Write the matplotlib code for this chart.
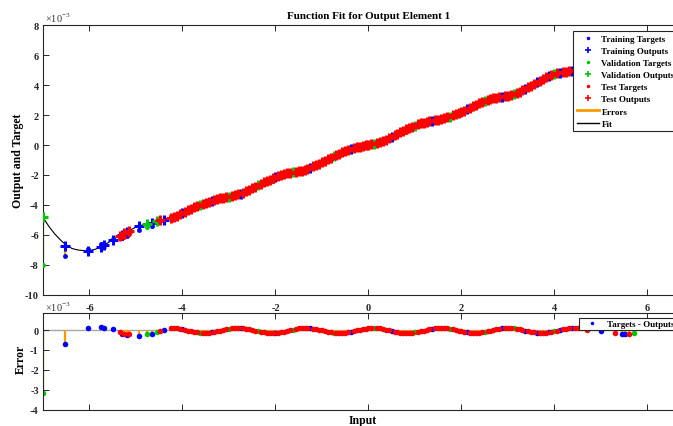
import matplotlib
matplotlib.use('Agg')
import matplotlib.pyplot as plt
from matplotlib.lines import Line2D
import numpy as np

# ---------------- data (values in units of 1e-3) ----------------
input_x = [
    -7.0, -6.52, -6.03, -5.75, -5.68, -5.49, -5.35, -5.30, -5.25, -5.20, -5.15,
    -4.93, -4.77, -4.66, -4.55, -4.48, -4.40,
    -4.25, -4.125, -4.0, -3.875, -3.75, -3.625, -3.5, -3.375, -3.25, -3.125,
    -3.0, -2.875, -2.75, -2.625, -2.5, -2.375, -2.25, -2.125, -2.0, -1.875,
    -1.75, -1.625, -1.5, -1.375, -1.25, -1.125, -1.0, -0.875, -0.75, -0.625,
    -0.5, -0.375, -0.25, -0.125, 0.0, 0.125, 0.25, 0.375, 0.5, 0.625,
    0.75, 0.875, 1.0, 1.125, 1.25, 1.375, 1.5, 1.625, 1.75, 1.875,
    2.0, 2.125, 2.25, 2.375, 2.5, 2.625, 2.75, 2.875, 3.0, 3.125,
    3.25, 3.375, 3.5, 3.625, 3.75, 3.875, 4.0, 4.125, 4.25, 4.375, 4.5,
    4.70, 5.00, 5.30, 5.45, 5.52, 5.60, 5.72,
    -4.1875, -4.0625, -3.9375, -3.8125, -3.6875, -3.5625, -3.4375, -3.3125, -3.1875, -3.0625,
    -2.9375, -2.8125, -2.6875, -2.5625, -2.4375, -2.3125, -2.1875, -2.0625, -1.9375, -1.8125,
    -1.6875, -1.5625, -1.4375, -1.3125, -1.1875, -1.0625, -0.9375, -0.8125, -0.6875, -0.5625,
    -0.4375, -0.3125, -0.1875, -0.0625, 0.0625, 0.1875, 0.3125, 0.4375, 0.5625, 0.6875,
    0.8125, 0.9375, 1.0625, 1.1875, 1.3125, 1.4375, 1.5625, 1.6875, 1.8125, 1.9375,
    2.0625, 2.1875, 2.3125, 2.4375, 2.5625, 2.6875, 2.8125, 2.9375, 3.0625, 3.1875,
    3.3125, 3.4375, 3.5625, 3.6875, 3.8125, 3.9375, 4.0625, 4.1875, 4.3125, 4.4375,
]
output_y = [
    -4.82, -6.72, -7.04, -6.78, -6.68, -6.31, -6.08, -5.99, -5.90, -5.82, -5.74,
    -5.38, -5.28, -5.20, -5.10, -5.03, -4.97,
    -4.85, -4.71, -4.55, -4.35, -4.15, -3.99, -3.85, -3.71, -3.60, -3.52,
    -3.45, -3.36, -3.25, -3.08, -2.90, -2.70, -2.50, -2.32, -2.15, -2.01,
    -1.90, -1.82, -1.75, -1.64, -1.50, -1.33, -1.15, -0.95, -0.75, -0.57,
    -0.40, -0.26, -0.15, -0.07, 0.00, 0.09, 0.20, 0.36, 0.55, 0.75,
    0.95, 1.14, 1.30, 1.44, 1.55, 1.63, 1.70, 1.79, 1.90, 2.04,
    2.20, 2.40, 2.60, 2.79, 2.95, 3.07, 3.15, 3.22, 3.30, 3.41,
    3.55, 3.75, 3.95, 4.18, 4.42, 4.60, 4.72, 4.82, 4.90, 4.96, 5.02,
    5.12, 5.50, 6.02, 6.22, 6.31, 6.39, 6.48,
    -4.78, -4.63, -4.45, -4.25, -4.07, -3.92, -3.78, -3.65, -3.56, -3.48,
    -3.40, -3.30, -3.17, -2.99, -2.80, -2.60, -2.41, -2.23, -2.08, -1.95,
    -1.86, -1.78, -1.70, -1.57, -1.42, -1.24, -1.05, -0.85, -0.66, -0.48,
    -0.33, -0.20, -0.11, -0.03, 0.04, 0.14, 0.28, 0.45, 0.65, 0.85,
    1.04, 1.22, 1.37, 1.50, 1.59, 1.66, 1.74, 1.84, 1.97, 2.12,
    2.30, 2.50, 2.70, 2.87, 3.01, 3.11, 3.18, 3.26, 3.35, 3.48,
    3.65, 3.85, 4.06, 4.30, 4.51, 4.66, 4.77, 4.86, 4.93, 4.99,
]
error_e = [
    -3.18, -0.70, 0.10, 0.17, 0.10, 0.05, -0.12, -0.20, -0.22, -0.25, -0.20,
    -0.28, -0.20, -0.20, -0.12, -0.07, 0.00,
    0.10, 0.08, 0.03, -0.03, -0.10, -0.14, -0.15, -0.12, -0.07, -0.01,
    0.06, 0.09, 0.10, 0.07, 0.01, -0.06, -0.12, -0.15, -0.14, -0.11,
    -0.05, 0.02, 0.08, 0.10, 0.09, 0.05, -0.02, -0.08, -0.13, -0.15,
    -0.13, -0.08, -0.02, 0.05, 0.09, 0.10, 0.08, 0.02, -0.05, -0.11,
    -0.14, -0.15, -0.12, -0.06, 0.01, 0.07, 0.10, 0.09, 0.06, -0.01,
    -0.07, -0.12, -0.15, -0.14, -0.10, -0.03, 0.03, 0.08, 0.10, 0.08,
    0.03, -0.03, -0.10, -0.14, -0.15, -0.12, -0.07, -0.01, 0.06, 0.09, 0.10,
    0.02, -0.05, -0.15, -0.20, -0.22, -0.20, -0.15,
    0.09, 0.06, 0.00, -0.07, -0.12, -0.15, -0.14, -0.10, -0.04, 0.03,
    0.08, 0.10, 0.09, 0.04, -0.03, -0.09, -0.14, -0.15, -0.13, -0.08,
    -0.02, 0.05, 0.09, 0.10, 0.07, 0.02, -0.05, -0.11, -0.14, -0.14,
    -0.11, -0.05, 0.02, 0.07, 0.10, 0.09, 0.05, -0.02, -0.08, -0.13,
    -0.15, -0.14, -0.09, -0.03, 0.04, 0.09, 0.10, 0.08, 0.03, -0.04,
    -0.10, -0.14, -0.15, -0.12, -0.07, 0.00, 0.06, 0.09, 0.09, 0.06,
    0.00, -0.07, -0.12, -0.15, -0.14, -0.10, -0.04, 0.03, 0.08, 0.10,
]
split = [
    'va', 'tr', 'tr', 'tr', 'tr', 'tr', 'te', 'tr', 'te', 'tr', 'te',
    'tr', 'va', 'tr', 'va', 'te', 'tr',
    'te', 'te', 'tr', 'te', 'te', 'va', 'te', 'tr', 'te', 'te',
    'va', 'te', 'tr', 'te', 'te', 'va', 'te', 'te', 'tr', 'te',
    'te', 'va', 'te', 'te', 'tr', 'te', 'te', 'te', 'va', 'te',
    'te', 'tr', 'te', 'te', 'te', 'va', 'te', 'te', 'tr', 'te',
    'te', 'te', 'va', 'te', 'te', 'tr', 'te', 'te', 'va', 'te',
    'te', 'tr', 'te', 'te', 'va', 'te', 'te', 'tr', 'te', 'va',
    'te', 'tr', 'te', 'tr', 'te', 'tr', 'va', 'tr', 'te', 'tr', 'te',
    'te', 'tr', 'te', 'tr', 'tr', 'te', 'va',
] + ['te'] * 70
fit_x = [
    -7.0, -6.875, -6.75, -6.625, -6.5, -6.375, -6.25, -6.125, -6.0, -5.875,
    -5.75, -5.625, -5.5, -5.375, -5.25, -5.125, -5.0, -4.875, -4.75, -4.625,
    -4.5, -4.375, -4.25, -4.0, -3.75, -3.5, -3.25, -3.0, -2.75, -2.5, -2.25,
    -2.0, -1.75, -1.5, -1.25, -1.0, -0.75, -0.5, -0.25, 0.0, 0.25, 0.5, 0.75,
    1.0, 1.25, 1.5, 1.75, 2.0, 2.25, 2.5, 2.75, 3.0, 3.25, 3.5, 3.75, 4.0,
    4.25, 4.5, 4.75, 5.0, 5.25, 5.5, 5.75,
]
fit_y = [
    -4.82, -5.42, -5.92, -6.33, -6.68, -6.90, -7.00, -7.04, -7.04, -6.95,
    -6.78, -6.56, -6.32, -6.06, -5.88, -5.67, -5.47, -5.34, -5.25, -5.16,
    -5.06, -4.96, -4.85, -4.55, -4.15, -3.85, -3.60, -3.45, -3.25, -2.90, -2.50,
    -2.15, -1.90, -1.75, -1.50, -1.15, -0.75, -0.40, -0.15, 0.00, 0.20, 0.55, 0.95,
    1.30, 1.55, 1.70, 1.90, 2.20, 2.60, 2.95, 3.15, 3.30, 3.55, 3.95, 4.42, 4.72,
    4.90, 5.02, 5.18, 5.50, 5.92, 6.28, 6.50,
]
x_ticks = [-6, -4, -2, 0, 2, 4, 6]
y_ticks_fit = [-10, -8, -6, -4, -2, 0, 2, 4, 6, 8]
y_ticks_err = [-4, -3, -2, -1, 0]
split_names = {'tr': 'Training', 'va': 'Validation', 'te': 'Test'}

# ---------------- style ----------------
plt.rcParams['font.family'] = ['Liberation Serif', 'DejaVu Serif']
plt.rcParams['font.weight'] = 'bold'
plt.rcParams['axes.unicode_minus'] = False
plt.rcParams['mathtext.fontset'] = 'custom'
plt.rcParams['mathtext.rm'] = 'Liberation Serif'

colors = {'tr': '#0000FF', 'va': '#00C800', 'te': '#FF0000'}
orange = '#FF9900'

x = np.array(input_x)
y = np.array(output_y)
e = np.array(error_e)
t = y + e
s = np.array(split)

fig = plt.figure(figsize=(6.73, 4.27), dpi=100)
ax = fig.add_axes([0.0639, 0.3068, 0.9671, 0.6323])
ax2 = fig.add_axes([0.0639, 0.0386, 0.9671, 0.2267])

# top panel
ax.plot(fit_x, fit_y, color='k', lw=0.8, zorder=1)
ax.vlines(x, y, t, color=orange, lw=1.6, zorder=2)
for code in ['tr', 'va', 'te']:
    m = s == code
    ax.plot(x[m], t[m], '.', color=colors[code], ms=7, mew=0, zorder=3)
    ax.plot(x[m], y[m], '+', color=colors[code], ms=7, mew=2.2, zorder=3)

ax.set_xlim(-7, 7)
ax.set_ylim(-10, 8)
ax.set_xticks(x_ticks)
ax.set_yticks(y_ticks_fit)
ax.set_title('Function Fit for Output Element 1', fontsize=8, fontweight='bold', pad=5)

# bottom panel
ax2.axhline(0, color='#A8A8A8', lw=1.0, zorder=0)
ax2.vlines(x, 0, e, color=orange, lw=1.6, zorder=1)
for code in ['tr', 'va', 'te']:
    m = s == code
    ax2.plot(x[m], e[m], '.', color=colors[code], ms=8, mew=0, zorder=2)
ax2.set_xlim(-7, 7)
ax2.set_ylim(-4, 0.87)
ax2.set_xticks(x_ticks)
ax2.set_xticklabels([])
ax2.set_yticks(y_ticks_err)

for a in (ax, ax2):
    a.tick_params(direction='in', top=True, right=True, length=4, width=0.7,
                  labelsize=7.5, pad=3, colors='#262626')
    for sp in a.spines.values():
        sp.set_linewidth(0.8)
        sp.set_color('#262626')
ax.tick_params(axis='x', pad=6)

# exponent labels
fig.text(45 / 673, 1 - 18 / 427, '\u00d710$^{\\mathregular{-3}}$', fontsize=7.5,
         fontweight='normal', ha='left', va='center', color='#333333')
fig.text(45 / 673, 1 - 307 / 427, '\u00d710$^{\\mathregular{-3}}$', fontsize=7.5,
         fontweight='normal', ha='left', va='center', color='#333333')

# axis labels
fig.text(18 / 673, 1 - 161 / 427, 'Output and Target', rotation=90, ha='center',
         va='center', fontsize=8.5, fontweight='bold')
fig.text(21 / 673, 1 - 359 / 427, 'Error', rotation=90, ha='center',
         va='center', fontsize=8.5, fontweight='bold')
fig.text(363 / 673, 1 - 421 / 427, 'Input', ha='center', va='center',
         fontsize=8.5, fontweight='bold')

# legends
handles = []
for code in ['tr', 'va', 'te']:
    handles.append(Line2D([], [], ls='none', marker='.', ms=3, color=colors[code],
                          label=split_names[code] + ' Targets'))
    handles.append(Line2D([], [], ls='none', marker='+', ms=5, mew=1.2, color=colors[code],
                          label=split_names[code] + ' Outputs'))
handles.append(Line2D([], [], color=orange, lw=2, label='Errors'))
handles.append(Line2D([], [], color='k', lw=1, label='Fit'))
leg = ax.legend(handles=handles, loc='upper left',
                bbox_to_anchor=(573 / 673, 1 - 32 / 427), bbox_transform=fig.transFigure,
                borderaxespad=0, fontsize=6.5, labelspacing=0.42, borderpad=0.4,
                handlelength=2.5, handletextpad=0.25, numpoints=1,
                fancybox=False, framealpha=1, edgecolor='#262626')
leg.get_frame().set_linewidth(0.8)
leg.set_zorder(10)

h2 = [Line2D([], [], ls='none', marker='.', ms=3, color='#0000FF', label='Targets - Outputs')]
leg2 = ax2.legend(handles=h2, loc='upper left',
                  bbox_to_anchor=(579 / 673, 1 - 319 / 427), bbox_transform=fig.transFigure,
                  borderaxespad=0, fontsize=6.5, borderpad=0.18, handlelength=2.6,
                  handletextpad=0.33, numpoints=1, fancybox=False, framealpha=1,
                  edgecolor='#262626')
leg2.get_frame().set_linewidth(0.8)
leg2.set_zorder(10)

fig.savefig('out.png', dpi=100)
